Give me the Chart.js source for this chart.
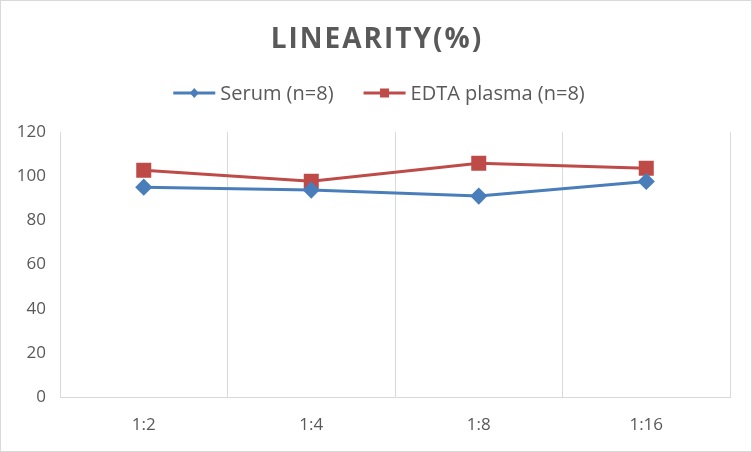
<!DOCTYPE html>
<html>
<head>
<meta charset="utf-8">
<script src="https://cdn.jsdelivr.net/npm/chart.js@4.4.1/dist/chart.umd.min.js"></script>
<style>
  body { margin: 0; background: #ffffff; }
  #wrap { width: 750px; height: 450px; border: 1px solid #d9d9d9; position: relative; }
</style>
</head>
<body>
<div id="wrap"><canvas id="grafikLinearitas" width="750" height="450"></canvas></div>
<script>
// data
const kategori = ['1:2', '1:4', '1:8', '1:16'];
const serum = [95, 93.7, 91, 97.6];
const edtaPlasma = [102.7, 97.7, 105.8, 103.6];
const yTicks = [0, 20, 40, 60, 80, 100, 120];
const judul = 'LINEARITY(%)';

const BIRU = '#4a7ebb';
const MERAH = '#be4b48';
const ABU = '#595959';
const FONT = 'Open Sans';

// judul dengan jarak huruf + legenda garis/penanda
const pluginJudulLegenda = {
    id: 'judulLegenda',
    afterDraw(chart) {
        const ctx = chart.ctx;
        ctx.save();

        // judul
        ctx.font = 'bold 28px "' + FONT + '"';
        ctx.fillStyle = ABU;
        ctx.textAlign = 'center';
        ctx.textBaseline = 'middle';
        ctx.letterSpacing = '2px';
        ctx.fillText(judul, chart.width / 2 + 1, 39);
        ctx.letterSpacing = '0px';

        // legenda
        const panjangGaris = 42, celah = 5, jarakItem = 30, yLeg = 92;
        ctx.font = '20px "' + FONT + '"';
        ctx.textAlign = 'left';
        const item = chart.data.datasets.map(ds => ({
            ds: ds,
            lebar: panjangGaris + celah + ctx.measureText(ds.label).width
        }));
        const total = item.reduce((s, it) => s + it.lebar, 0) + jarakItem * (item.length - 1);
        let x = chart.width / 2 + 3 - total / 2;
        item.forEach(it => {
            const warna = it.ds.borderColor;
            ctx.strokeStyle = warna;
            ctx.fillStyle = warna;
            ctx.lineWidth = 3;
            ctx.beginPath();
            ctx.moveTo(x, yLeg);
            ctx.lineTo(x + panjangGaris, yLeg);
            ctx.stroke();
            const cx = x + panjangGaris / 2;
            if (it.ds.pointStyle === 'rectRot') {
                ctx.beginPath();
                ctx.moveTo(cx, yLeg - 5);
                ctx.lineTo(cx + 4.5, yLeg);
                ctx.lineTo(cx, yLeg + 5);
                ctx.lineTo(cx - 4.5, yLeg);
                ctx.closePath();
                ctx.fill();
            } else {
                ctx.fillRect(cx - 4.5, yLeg - 4.5, 9, 9);
            }
            ctx.fillStyle = ABU;
            ctx.fillText(it.ds.label, x + panjangGaris + celah, yLeg + 1);
            x += it.lebar + jarakItem;
        });

        ctx.restore();
    }
};

const chartLinearitas = new Chart(document.getElementById('grafikLinearitas'), {
    type: 'line',
    data: {
        labels: kategori,
        datasets: [{
            label: 'Serum (n=8)',
            data: serum,
            borderColor: BIRU,
            backgroundColor: BIRU,
            borderWidth: 3,
            pointStyle: 'rectRot',
            pointRadius: 6.5,
            pointHoverRadius: 6.5,
            tension: 0
        }, {
            label: 'EDTA plasma (n=8)',
            data: edtaPlasma,
            borderColor: MERAH,
            backgroundColor: MERAH,
            borderWidth: 3,
            pointStyle: 'rect',
            pointRadius: 8.5,
            pointHoverRadius: 8.5,
            tension: 0
        }]
    },
    plugins: [pluginJudulLegenda],
    options: {
        responsive: false,
        animation: false,
        layout: { padding: { top: 131, right: 21, bottom: 4, left: 0 } },
        plugins: {
            legend: { display: false },
            tooltip: { enabled: false }
        },
        scales: {
            x: {
                offset: true,
                afterFit: function (axis) { axis.height = 50; },
                grid: { display: true, offset: true, color: '#d9d9d9', drawTicks: false },
                border: { display: true, color: '#d9d9d9' },
                ticks: { color: ABU, font: { family: FONT, size: 17 }, padding: 18 }
            },
            y: {
                min: 0,
                max: 120,
                afterBuildTicks: function (axis) {
                    axis.ticks = yTicks.map(v => ({ value: v }));
                },
                afterFit: function (axis) { axis.width = 59; },
                grid: { display: false },
                border: { display: false },
                ticks: { color: ABU, font: { family: FONT, size: 17 }, padding: 6 }
            }
        }
    }
});
</script>
</body>
</html>
